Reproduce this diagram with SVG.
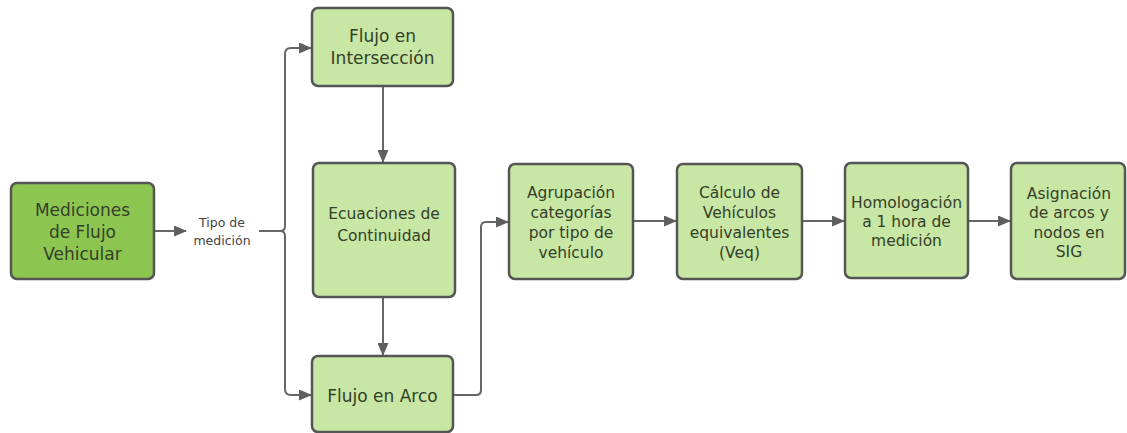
<svg xmlns="http://www.w3.org/2000/svg" width="1127" height="433" viewBox="0 0 1127 433">
<defs>
<marker id="ah" markerWidth="13" markerHeight="11" refX="12" refY="5.5" orient="auto" markerUnits="userSpaceOnUse" viewBox="0 0 13 11">
<path d="M0,0 L13,5.5 L0,11 z" fill="#5f5f5f"/>
</marker>
<style>
.box{fill:#c8e6a4;stroke:#555;stroke-width:2.5}
.dark{fill:#8cc651}
.t{font-family:"DejaVu Sans","Liberation Sans",sans-serif;font-size:15.5px;fill:#34402a;text-anchor:middle}
.tl{font-size:17px}
.s{font-family:"DejaVu Sans","Liberation Sans",sans-serif;font-size:12.5px;fill:#444;text-anchor:middle}
.c{fill:none;stroke:#666;stroke-width:2}
</style>
</defs>
<rect width="1127" height="433" fill="#ffffff"/>
<g id="connectors">
<path class="c" d="M154,231 H186" marker-end="url(#ah)"/>
<path class="c" d="M259,231 H280 Q285,231 285,226 V54 Q285,48 291,48 H311" marker-end="url(#ah)"/>
<path class="c" d="M280,231 Q285,231 285,236 V389 Q285,395 291,395 H311" marker-end="url(#ah)"/>
<path class="c" d="M383,86 V162" marker-end="url(#ah)"/>
<path class="c" d="M383,297 V355" marker-end="url(#ah)"/>
<path class="c" d="M453,395 H476 Q481,395 481,390 V227 Q481,222 486,222 H508" marker-end="url(#ah)"/>
<path class="c" d="M633,221 H676" marker-end="url(#ah)"/>
<path class="c" d="M802,221 H844" marker-end="url(#ah)"/>
<path class="c" d="M968,221 H1010" marker-end="url(#ah)"/>
<text class="s" x="222" y="227">Tipo de</text>
<text class="s" x="222" y="245">medición</text>
</g>
<g id="n-mediciones">
<rect class="box dark" x="11" y="183" width="143" height="96" rx="6"/>
<text class="t tl" x="82.5" y="216">Mediciones</text>
<text class="t tl" x="82.5" y="238">de Flujo</text>
<text class="t tl" x="82.5" y="260">Vehicular</text>
</g>
<g id="n-interseccion">
<rect class="box" x="312" y="8" width="141" height="78" rx="6"/>
<text class="t tl" x="382.5" y="42">Flujo en</text>
<text class="t tl" x="382.5" y="64">Intersección</text>
</g>
<g id="n-ecuaciones">
<rect class="box" x="313" y="163" width="142" height="134" rx="6"/>
<text class="t" x="384" y="219">Ecuaciones de</text>
<text class="t" x="384" y="241">Continuidad</text>
</g>
<g id="n-arco">
<rect class="box" x="312" y="356" width="141" height="76" rx="6"/>
<text class="t tl" x="382.5" y="402">Flujo en Arco</text>
</g>
<g id="n-agrupacion">
<rect class="box" x="509" y="164" width="124" height="115" rx="6"/>
<text class="t" x="571" y="198">Agrupación</text>
<text class="t" x="571" y="218">categorías</text>
<text class="t" x="571" y="238">por tipo de</text>
<text class="t" x="571" y="258">vehículo</text>
</g>
<g id="n-calculo">
<rect class="box" x="677" y="164" width="125" height="115" rx="6"/>
<text class="t" x="739.5" y="198">Cálculo de</text>
<text class="t" x="739.5" y="218">Vehículos</text>
<text class="t" x="739.5" y="238">equivalentes</text>
<text class="t" x="739.5" y="258">(Veq)</text>
</g>
<g id="n-homologacion">
<rect class="box" x="845" y="163" width="123" height="115" rx="6"/>
<text class="t" x="906.5" y="208">Homologación</text>
<text class="t" x="906.5" y="227">a 1 hora de</text>
<text class="t" x="906.5" y="246">medición</text>
</g>
<g id="n-asignacion">
<rect class="box" x="1011" y="163" width="114" height="116" rx="6"/>
<text class="t" x="1069" y="199">Asignación</text>
<text class="t" x="1069" y="218">de arcos y</text>
<text class="t" x="1069" y="238">nodos en</text>
<text class="t" x="1069" y="257">SIG</text>
</g>
</svg>
